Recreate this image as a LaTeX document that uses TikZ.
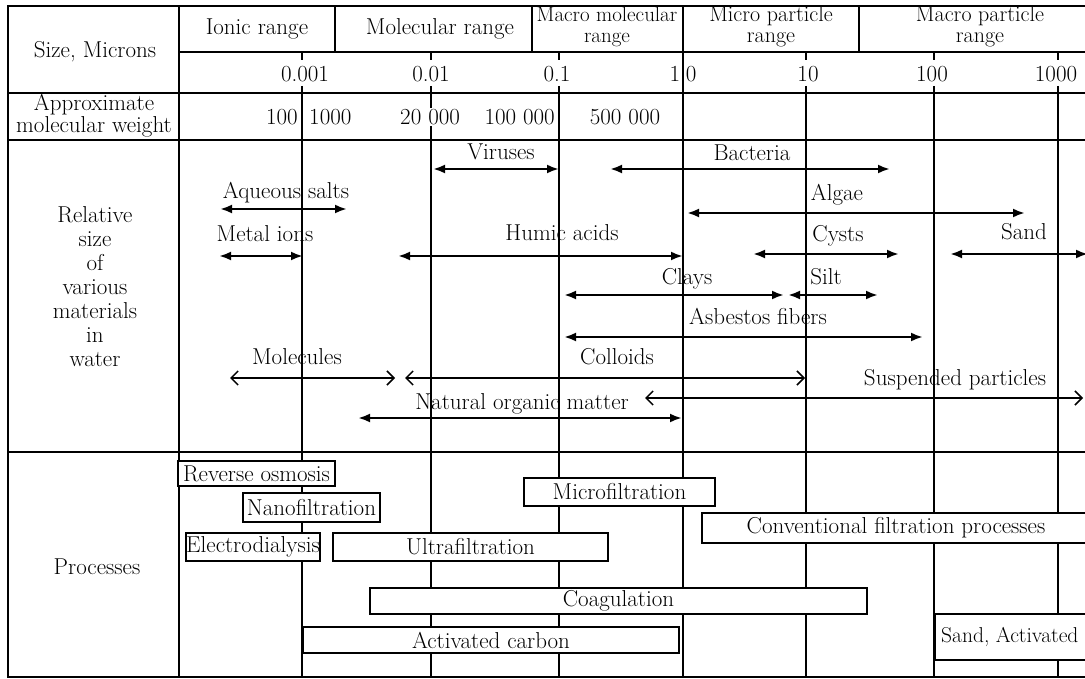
\documentclass[tikz,border=0pt]{standalone}
\usetikzlibrary{arrows.meta}

\begin{document}
\begin{tikzpicture}[x=1pt,y=-1pt,
    lbl/.style={font=\fontsize{23}{24}\selectfont,inner sep=0pt,align=center},
    twoline/.style={font=\fontsize{22}{21}\selectfont,inner sep=0pt,align=center},
    hdr/.style={font=\fontsize{21}{21}\selectfont,inner sep=0pt,align=center},
    frame/.style={line width=2.6pt},
    grid/.style={line width=1.6pt},
    sizebar/.style={line width=2.4pt,{Latex[length=12pt,width=9pt]}-{Latex[length=12pt,width=9pt]}},
    openbar/.style={line width=1.5pt,{Straight Barb[length=7pt,width=14pt]}-{Straight Barb[length=7pt,width=14pt]}},
    proc/.style={draw,line width=1.4pt,fill=white,inner sep=0pt,font=\fontsize{23}{24}\selectfont}]
    \useasboundingbox (0,0) rectangle (1085,679);
    \clip (0,0) rectangle (1085,679);

    % table frame and rows
    \draw[frame] (1100,6) -- (8,6) -- (8,677) -- (1100,677);
    \draw[grid] (179,6) -- (179,677);
    \draw[grid] (179,52) -- (1100,52);
    \draw[grid] (8,93) -- (1100,93);
    \draw[grid] (8,140) -- (1100,140);
    \draw[grid] (8,452) -- (1100,452);

    % range dividers in the first row
    \foreach \x in {335,532,859}
        \draw[grid] (\x,6) -- (\x,52);
    \draw[grid] (683,6) -- (683,677);

    % decade lines
    \foreach \x in {302,431,559,806,934,1058} {
        \draw[grid] (\x,52) -- (\x,60);
        \draw[grid] (\x,86) -- (\x,677);
    }

    % left column
    \node[lbl] (size) at (95,52) {Size, Microns};
    \node[lbl,font=\fontsize{23}{22}\selectfont] (molweight) at (94,116) {Approximate\\molecular weight};
    \node[lbl] (relsize) at (95,287) {Relative\\size\\of\\various\\materials\\in\\water};
    \node[lbl] (processes) at (97,567) {Processes};

    % ranges
    \node[lbl] (ionic) at (257,29) {Ionic range};
    \node[lbl] (molecular) at (440,29) {Molecular range};
    \node[hdr] (macromol) at (607,27) {Macro molecular\\range};
    \node[twoline] (micropart) at (771,27) {Micro particle\\range};
    \node[twoline] (macropart) at (980,27) {Macro particle\\range};

    % sizes
    \node[lbl] (s1) at (305,74) {0.001};
    \node[lbl] (s2) at (431,74) {0.01};
    \node[lbl] (s3) at (557,74) {0.1};
    \node[lbl] (s4) at (683,74) {1.0};
    \node[lbl] (s5) at (808,74) {10};
    \node[lbl] (s6) at (932,74) {100};
    \node[lbl] (s7) at (1056,74) {1000};

    % molecular weights
    \node[lbl,anchor=east] (w1) at (298,117) {100};
    \node[lbl,anchor=west] (w2) at (309,117) {1000};
    \node[lbl,anchor=west,fill=white,inner ysep=1pt] (w3) at (400,117) {20 000};
    \node[lbl,anchor=east] (w4) at (555,117) {100 000};
    \node[lbl] (w5) at (625,117) {500 000};

    % materials in water
    \node[lbl] (viruses) at (501,152) {Viruses};
    \draw[sizebar] (433,169) -- (559,169);
    \node[lbl] (bacteria) at (752,153) {Bacteria};
    \draw[sizebar] (610,169) -- (890,169);
    \node[lbl] (salts) at (286,193) {Aqueous salts};
    \draw[sizebar] (220,209) -- (347,209);
    \node[lbl] (algae) at (837,195) {Algae};
    \draw[sizebar] (687,213) -- (1025,213);
    \node[lbl] (metalions) at (265,234) {Metal ions};
    \draw[sizebar] (219,256) -- (303,256);
    \node[lbl] (humic) at (562,233) {Humic acids};
    \draw[sizebar] (398,256) -- (683,256);
    \node[lbl] (cysts) at (838,236) {Cysts};
    \draw[sizebar] (753,254) -- (899,254);
    \node[lbl] (sand) at (1024,232) {Sand};
    \draw[sizebar] (950,254) -- (1088,254);
    \node[lbl] (clays) at (687,279) {Clays};
    \draw[sizebar] (564,295) -- (784,295);
    \node[lbl] (silt) at (826,277) {Silt};
    \draw[sizebar] (788,295) -- (878,295);
    \node[lbl] (asbestos) at (758,316) {Asbestos fibers};
    \draw[sizebar] (564,337) -- (923,337);
    \node[lbl] (molecules) at (297,357) {Molecules};
    \draw[openbar] (230,378) -- (395,378);
    \node[lbl] (colloids) at (617,357) {Colloids};
    \draw[openbar] (405,378) -- (805,378);
    \node[lbl] (suspended) at (955,380) {Suspended particles};
    \draw[openbar] (645,398) -- (1083,398);
    \node[lbl] (nom) at (522,404) {Natural organic matter};
    \draw[sizebar] (358,418) -- (682,418);

    % processes
    \node[proc,minimum width=157pt,minimum height=25pt] (ro) at (256.5,473.5) {Reverse osmosis};
    \node[proc,minimum width=137pt,minimum height=29pt] (nf) at (311.5,507.5) {Nanofiltration};
    \node[proc,minimum width=134pt,minimum height=28pt] (ed) at (253,547) {Electrodialysis};
    \node[proc,minimum width=275pt,minimum height=28pt] (uf) at (470.5,547) {Ultrafiltration};
    \node[proc,minimum width=191pt,minimum height=28pt] (mf) at (619.5,492) {Microfiltration};
    \node[proc,minimum width=388pt,minimum height=30pt] (conv) at (896,528) {Conventional filtration processes};
    \node[proc,minimum width=497pt,minimum height=26pt] (coag) at (618.5,601) {Coagulation};
    \node[proc,minimum width=376pt,minimum height=26pt] (ac) at (491,640) {Activated carbon};
    \draw[line width=1.4pt,fill=white] (935,614) rectangle (1120,660);
    \node[lbl,font=\fontsize{21.5}{24}\selectfont,anchor=west] (sandac) at (941,637) {Sand, Activated};
\end{tikzpicture}
\end{document}
